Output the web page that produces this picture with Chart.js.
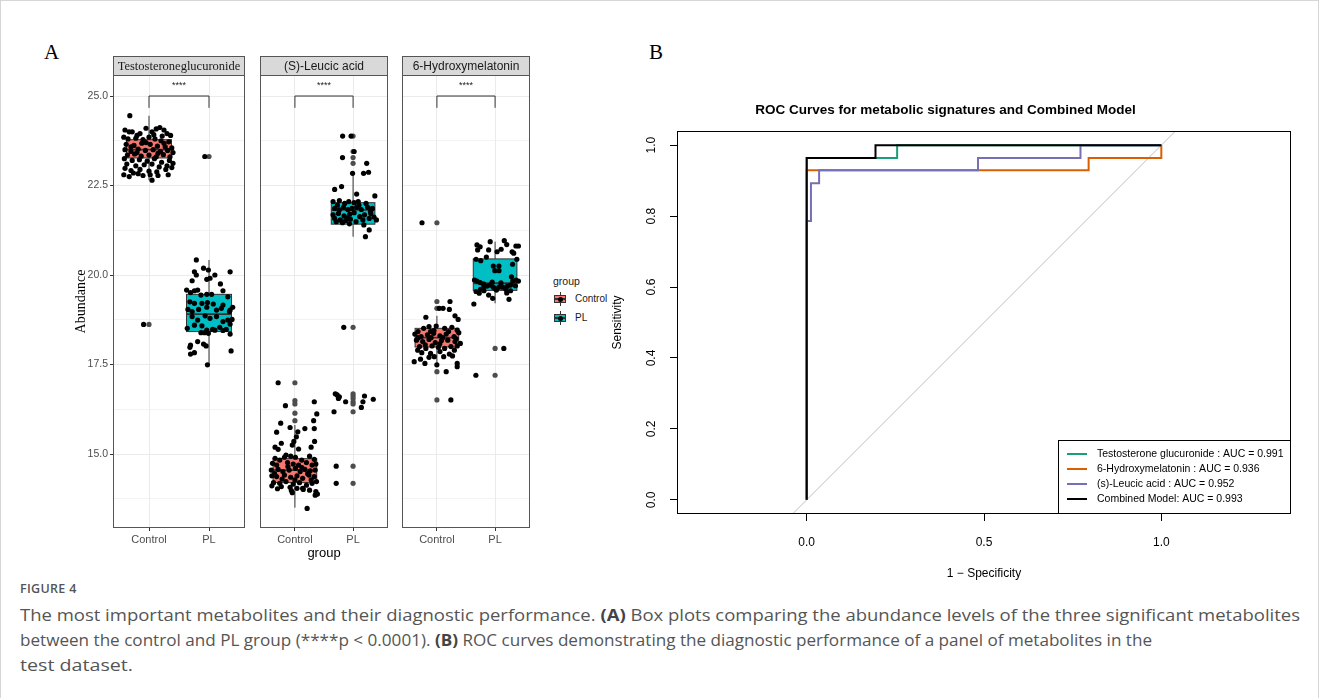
<!DOCTYPE html>
<html><head><meta charset="utf-8">
<script src="https://cdn.jsdelivr.net/npm/chart.js@4.4.1/dist/chart.umd.min.js"></script>
<style>
html,body{margin:0;padding:0;background:#fff;}
#wrap{position:relative;width:1319px;height:698px;overflow:hidden;background:#fff;font-family:"Liberation Sans",Arial,sans-serif;}
#frame{position:absolute;left:0;top:0;width:1317px;height:720px;border:1px solid #d6d6d6;}
canvas{position:absolute;}
.plab{position:absolute;font-family:"Liberation Serif","Times New Roman",serif;font-size:21px;color:#000;line-height:1;}
#legA{position:absolute;left:553px;top:275px;font-size:10px;color:#1a1a1a;}
#legA .t{font-size:10.5px;margin-bottom:5px;}
#legA .row{position:relative;height:19px;}
#legA .key{position:absolute;left:0;top:0;width:14px;height:14px;}
#legA .wh{position:absolute;left:6.5px;top:0;width:1px;height:14px;background:#333;}
#legA .bx{position:absolute;left:1px;top:3px;width:10px;height:6px;border:1px solid #333;}
#legA .md{position:absolute;left:1px;top:6px;width:12px;height:1.5px;background:#333;}
#legA .dt{position:absolute;left:4.5px;top:4.5px;width:5px;height:5px;border-radius:50%;background:#000;}
#legA .txt{position:absolute;left:22px;top:1px;font-size:10px;}
.cap{position:absolute;left:20px;white-space:nowrap;transform-origin:0 0;font-family:"Open Sans","Noto Sans",sans-serif;color:#555;font-size:16px;line-height:1;}
.cap b{color:#444;}
#figno{position:absolute;left:20px;top:580px;font-family:"Open Sans","Noto Sans",sans-serif;font-size:12.5px;color:#555;letter-spacing:0.3px;font-weight:600;}
</style></head><body>
<div id="wrap">
<div id="frame"></div>
<div class="plab" style="left:44px;top:42px;">A</div>
<div class="plab" style="left:649px;top:42px;">B</div>
<div id="legA">
 <div class="t">group</div>
 <div class="row"><div class="key"><div class="wh"></div><div class="bx" style="background:#F8766D"></div><div class="md"></div><div class="dt"></div></div><div class="txt">Control</div></div>
 <div class="row"><div class="key"><div class="wh"></div><div class="bx" style="background:#00BFC4"></div><div class="md"></div><div class="dt"></div></div><div class="txt">PL</div></div>
</div>
<div id="figno">FIGURE 4</div>
<div class="cap" id="cap1" style="top:607px">The most important metabolites and their diagnostic performance. <b>(A)</b> Box plots comparing the abundance levels of the three significant metabolites</div>
<div class="cap" id="cap2" style="top:632px">between the control and PL group (****p &lt; 0.0001). <b>(B)</b> ROC curves demonstrating the diagnostic performance of a panel of metabolites in the</div>
<div class="cap" id="cap3" style="top:657px">test dataset.</div>
</div>
<script>
// ================= DATA =================
const groups = ['Control', 'PL'];
const facetTitles = ['Testosteroneglucuronide', '(S)-Leucic acid', '6-Hydroxymelatonin'];
const sigLabel = '****';
const yTicksA = [15.0, 17.5, 20.0, 22.5, 25.0];
const yMinorA = [13.75, 16.25, 18.75, 21.25, 23.75];
const sigBracket = [24.67, 25.0, 25.3]; // leg bottom, bracket top, label

// box stats: [lower whisker, Q1, median, Q3, upper whisker]
const testoCtrlBox = [22.65, 23.27, 23.5, 23.78, 24.45];
const testoPLBox   = [17.49, 18.42, 18.91, 19.46, 20.42];
const leucCtrlBox  = [13.50, 14.20, 14.55, 14.87, 15.81];
const leucPLBox    = [21.07, 21.42, 21.82, 22.02, 22.87];
const hydrCtrlBox  = [17.44, 17.99, 18.25, 18.51, 18.86];
const hydrPLBox    = [19.21, 19.57, 19.77, 20.45, 20.93];

// boxplot outliers (drawn at group centre)
const testoCtrlOut = [18.62];
const testoPLOut   = [23.31];
const leucCtrlOut  = [16.99, 16.49, 16.40, 16.14, 15.93];
const leucPLOut    = [23.88, 23.45, 23.28, 23.12, 18.54, 16.68, 16.62, 16.55, 16.46, 16.40, 16.18, 14.66, 14.18];
const hydrCtrlOut  = [21.46, 19.26, 19.07, 17.30, 16.51];
const hydrPLOut    = [17.95, 17.20];

// jittered points [offset from group centre, abundance]
const testoCtrlPts = [[-0.32,24.45],[-0.4,24.05],[-0.28,24.0],[-0.15,23.95],[-0.05,24.1],[0.05,24.0],[0.18,24.12],[0.25,24.05],[0.3,23.95],[0.36,23.9],
[-0.42,23.85],[-0.35,23.8],[-0.22,23.82],[-0.1,23.78],[0.0,23.85],[0.1,23.8],[0.2,23.75],[0.33,23.72],[-0.38,23.65],[-0.25,23.62],
[-0.12,23.68],[0.02,23.65],[0.14,23.6],[0.27,23.58],[0.38,23.55],[-0.4,23.5],[-0.3,23.45],[-0.18,23.52],[-0.06,23.48],[0.07,23.5],
[0.19,23.45],[0.31,23.48],[0.4,23.42],[-0.36,23.35],[-0.24,23.38],[-0.13,23.32],[0.0,23.35],[0.12,23.3],[0.24,23.36],[0.35,23.3],
[-0.41,23.25],[-0.28,23.2],[-0.16,23.22],[-0.03,23.18],[0.09,23.25],[0.21,23.15],[0.34,23.2],[-0.37,23.1],[-0.22,23.05],[-0.08,23.08],
[0.05,23.1],[0.17,23.02],[0.3,23.05],[0.4,23.12],[-0.4,22.98],[-0.3,22.92],[-0.15,22.95],[0.0,22.9],[0.13,22.88],[0.28,22.95],
[-0.42,22.8],[-0.33,22.75],[-0.26,22.85],[-0.18,22.83],[-0.1,22.78],[0.02,22.8],[0.05,22.65],[0.15,22.78],[0.32,22.8],[0.38,23.0],
[-0.2,23.9],[0.08,23.92],[0.22,23.88],[-0.33,24.0],[0.12,24.08],[-0.05,23.7],[0.25,23.68],[-0.2,23.42],[0.15,23.4],[-0.3,23.58],
[-0.09,18.62]];
const testoPLPts = [[-0.211,20.42],[-0.091,20.19],[-0.243,20.09],[-0.211,20.0],[-0.010,20.14],[0.098,20.0],[0.352,20.09],[-0.037,19.88],[0.017,19.91],[-0.281,19.84],[0.190,19.75],
[-0.373,19.58],[-0.308,19.51],[-0.243,19.56],[-0.189,19.58],[0.233,19.56],[-0.134,19.44],[-0.037,19.46],[0.044,19.46],[0.314,19.39],
[-0.319,19.25],[-0.243,19.21],[-0.118,19.21],[-0.026,19.23],[0.071,19.19],[0.233,19.16],
[-0.351,19.04],[-0.281,18.98],[-0.173,19.04],[-0.037,19.10],[0.125,19.02],[0.206,19.07],[0.352,19.02],[0.395,19.10],[0.341,18.98],
[-0.281,18.84],[-0.189,18.74],[-0.064,18.86],[0.017,18.79],[0.125,18.84],[0.233,18.70],[0.314,18.74],[0.352,18.63],[0.384,18.76],
[-0.362,18.51],[-0.243,18.60],[-0.118,18.58],[-0.037,18.46],[0.060,18.48],[0.179,18.54],[0.287,18.48],
[-0.134,18.39],[-0.075,18.39],[-0.010,18.37],[0.098,18.46],[0.233,18.45],[0.352,18.35],
[-0.189,18.14],[-0.091,18.07],[-0.048,18.02],[-0.308,18.04],[-0.319,17.98],[-0.243,17.83],[-0.308,17.79],[0.368,17.88],[-0.026,17.49],
[-0.07,23.31]];
const leucCtrlPts = [[-0.288,16.99],[-0.163,16.35],[0.333,16.46],[0.376,16.12],[-0.244,15.86],[-0.083,15.74],[0.322,15.93],[0.171,15.71],[0.333,15.71],
[-0.314,15.61],[0.050,15.62],[0.025,15.48],[-0.018,15.35],[-0.234,15.30],[-0.045,15.25],[0.063,15.14],[0.279,15.19],[0.338,15.35],[-0.341,15.19],[-0.288,15.13],
[-0.153,14.97],[-0.072,14.94],[-0.341,14.88],[-0.261,14.83],[-0.180,14.91],[0.009,14.91],[0.117,14.83],[0.252,14.94],[0.333,14.85],
[-0.385,14.74],[-0.314,14.69],[-0.126,14.76],[-0.029,14.72],[0.063,14.69],[0.198,14.76],[0.295,14.69],[0.360,14.72],
[-0.406,14.55],[-0.288,14.57],[-0.207,14.51],[-0.099,14.55],[0.009,14.60],[0.090,14.51],[0.171,14.57],[0.263,14.53],[0.349,14.55],
[-0.396,14.39],[-0.314,14.37],[-0.180,14.41],[-0.072,14.35],[0.036,14.39],[0.133,14.32],[0.241,14.41],[0.333,14.37],
[-0.368,14.20],[-0.261,14.18],[-0.153,14.23],[-0.029,14.16],[0.079,14.20],[0.198,14.13],[0.295,14.18],[0.371,14.23],
[-0.396,14.11],[-0.234,14.09],[-0.083,14.07],[0.036,14.04],[0.144,14.01],[0.252,13.99],[0.360,13.95],[0.349,13.85],[0.387,13.88],[0.133,14.04],[-0.061,13.98],[-0.045,13.92],[0.21,13.48],
[-0.35,14.45],[0.22,14.45],[-0.12,14.65],[0.12,14.62],[-0.22,14.3],[0.28,14.28],[-0.3,14.03],[0.00,14.28]];
const leucPLPts = [[-0.18,23.88],[-0.035,23.88],[0.018,23.45],[-0.182,23.28],[0.234,23.12],[0.266,22.87],[0.18,22.84],[-0.009,22.84],[0.374,22.21],[-0.317,22.39],[-0.198,22.47],[0.061,22.26],
[-0.344,22.05],[-0.236,22.08],[-0.144,22.00],[-0.074,22.05],[0.018,22.02],[0.088,22.05],[0.223,22.00],
[-0.317,21.86],[-0.236,21.82],[-0.166,21.89],[-0.090,21.83],[-0.020,21.86],[0.061,21.89],[0.142,21.83],[0.250,21.89],[0.331,21.86],
[-0.344,21.68],[-0.252,21.72],[-0.155,21.65],[-0.058,21.70],[0.018,21.74],[0.115,21.63],[0.196,21.68],[0.304,21.72],
[-0.317,21.58],[-0.220,21.54],[-0.128,21.52],[-0.047,21.56],[0.050,21.49],[0.169,21.54],[0.277,21.58],[0.401,21.54],
[-0.290,21.49],[-0.182,21.46],[-0.063,21.43],[0.185,21.40],[0.277,21.26],[0.212,21.07],
[-0.27,21.95],[0.10,21.95],[0.30,21.78],[-0.10,21.60],[0.36,21.62],
[-0.16,18.54],[-0.306,16.68],[-0.274,16.65],[-0.252,16.55],[-0.236,16.60],[-0.128,16.46],[0.196,16.62],[0.169,16.46],[0.347,16.53],[0.142,16.30],[-0.328,16.18],[-0.29,14.66],[-0.29,14.18]];
const hydrCtrlPts = [[0.225,19.26],[0.041,19.07],[0.106,19.07],[0.214,19.04],[-0.190,18.82],[0.311,18.86],[0.365,18.76],
[-0.228,18.51],[-0.136,18.56],[-0.325,18.42],[-0.109,18.42],[-0.012,18.575],[0.133,18.51],[0.257,18.54],[0.349,18.46],
[-0.379,18.35],[-0.271,18.28],[-0.163,18.33],[-0.055,18.37],[0.052,18.30],[0.160,18.35],[0.295,18.28],[0.376,18.39],
[-0.352,18.18],[-0.244,18.14],[-0.136,18.20],[-0.028,18.11],[0.079,18.17],[0.187,18.18],[0.311,18.14],[0.403,18.09],
[-0.298,18.00],[-0.190,17.95],[-0.083,18.02],[0.025,17.98],[0.133,17.95],[0.241,18.00],[0.349,18.02],
[-0.260,17.83],[-0.109,17.81],[0.052,17.86],[0.214,17.79],[-0.045,17.72],[0.117,17.72],[0.268,17.74],[-0.136,17.70],
[-0.390,17.58],[-0.282,17.65],[-0.206,17.53],[-0.001,17.49],[0.160,17.30],[0.349,17.53],[0.349,17.44],
[-0.32,18.25],[0.33,18.22],[-0.05,18.45],[0.2,18.42],[-0.2,18.05],[0.05,18.08],[0.3,17.9],[-0.33,17.9],[-0.1,18.25],[0.1,18.25],
[-0.256,21.46],[0.24,16.51]];
const hydrPLPts = [[-0.311,20.84],[-0.257,20.79],[-0.084,20.93],[0.158,20.96],[0.358,20.81],[0.401,20.81],[0.293,20.65],[0.320,20.61],[-0.111,20.70],[0.034,20.65],[0.104,20.72],[-0.300,20.70],
[-0.031,20.25],[0.066,20.25],[-0.004,20.12],[0.066,20.12],[-0.327,20.44],[-0.246,20.40],[0.374,20.44],
[-0.354,19.86],[-0.311,19.83],[-0.257,19.79],[-0.203,19.63],[-0.138,19.69],[-0.084,19.72],[-0.031,19.66],[0.066,19.66],[0.131,19.66],[0.212,19.69],[0.266,19.72],[0.304,19.83],[0.358,19.86],[0.401,19.83],[0.282,19.95],
[-0.327,19.54],[-0.273,19.49],[-0.192,19.56],[-0.111,19.44],[-0.041,19.35],[0.023,19.58],[0.185,19.60],[0.266,19.56],[-0.365,19.19],[0.239,19.32],
[-0.2,19.75],[0.1,19.78],[0.35,19.7],[-0.05,19.8],[0.2,19.5],[-0.25,19.6],[0.0,19.62],[0.3,20.3],[-0.15,20.5],[0.2,20.85],
[0.15,17.95],[-0.33,17.20]];

// ROC curves (x = 1 - specificity, y = sensitivity)
const rocTestoX = [0, 0, 0.255, 0.255, 1];
const rocTestoY = [0, 0.964, 0.964, 1, 1];
const rocHydrX  = [0, 0, 0.795, 0.795, 1, 1];
const rocHydrY  = [0, 0.929, 0.929, 0.964, 0.964, 1];
const rocLeucX  = [0, 0, 0.012, 0.012, 0.035, 0.035, 0.483, 0.483, 0.772, 0.772, 1];
const rocLeucY  = [0, 0.786, 0.786, 0.893, 0.893, 0.929, 0.929, 0.964, 0.964, 1, 1];
const rocCombX  = [0, 0, 0.194, 0.194, 1];
const rocCombY  = [0, 0.964, 0.964, 1, 1];
const rocLabels = ['Testosterone glucuronide : AUC = 0.991', '6-Hydroxymelatonin : AUC = 0.936', '(s)-Leucic acid : AUC = 0.952', 'Combined Model: AUC = 0.993'];
const rocColors = ['#1B9E77', '#D95F02', '#7570B3', '#000000'];
const xTicksB = [0, 0.5, 1.0];
const yTicksB = [0, 0.2, 0.4, 0.6, 0.8, 1.0];

// ================= RENDER =================
const SANS = '"Liberation Sans", Arial, sans-serif';
const SERIF = '"Liberation Serif", "Times New Roman", serif';
Chart.defaults.font.family = SANS;
const wrap = document.getElementById('wrap');
function addCanvas(left, top, w, h) {
  const c = document.createElement('canvas');
  c.width = w; c.height = h;
  c.style.left = left + 'px'; c.style.top = top + 'px';
  c.style.width = w + 'px'; c.style.height = h + 'px';
  wrap.appendChild(c);
  return c;
}
const fillCols = ['#F8766D', '#00BFC4'];
const yMinA = 12.933, yMaxA = 25.587;
const yAllA = yMinorA.concat(yTicksA).sort((a, b) => a - b);
const STRIP = 19;

function facetPlugin(cfg) {
  return {
    id: 'facet' + cfg.idx,
    beforeDatasetsDraw(chart) {
      const {ctx, scales: {x, y}} = chart;
      cfg.boxes.forEach((b, i) => {
        const c = i + 1;
        const xl = x.getPixelForValue(c - 0.375), xr = x.getPixelForValue(c + 0.375), xc = x.getPixelForValue(c);
        const [lo, q1, md, q3, hi] = b.map(v => y.getPixelForValue(v));
        ctx.save();
        ctx.strokeStyle = '#333'; ctx.lineWidth = 1;
        ctx.beginPath(); ctx.moveTo(xc, hi); ctx.lineTo(xc, q3); ctx.moveTo(xc, q1); ctx.lineTo(xc, lo); ctx.stroke();
        ctx.fillStyle = fillCols[i];
        ctx.fillRect(xl, q3, xr - xl, q1 - q3);
        ctx.strokeRect(xl, q3, xr - xl, q1 - q3);
        ctx.lineWidth = 1.8;
        ctx.beginPath(); ctx.moveTo(xl, md); ctx.lineTo(xr, md); ctx.stroke();
        ctx.restore();
      });
    },
    afterDatasetsDraw(chart) {
      const {ctx, scales: {x, y}} = chart;
      const x1 = x.getPixelForValue(1), x2 = x.getPixelForValue(2);
      const yl = y.getPixelForValue(sigBracket[0]), yt = y.getPixelForValue(sigBracket[1]);
      ctx.save();
      ctx.strokeStyle = '#333'; ctx.lineWidth = 1;
      ctx.beginPath(); ctx.moveTo(x1, yl); ctx.lineTo(x1, yt); ctx.lineTo(x2, yt); ctx.lineTo(x2, yl); ctx.stroke();
      ctx.fillStyle = '#222'; ctx.font = '9px ' + SANS; ctx.textAlign = 'center'; ctx.textBaseline = 'middle';
      ctx.fillText(sigLabel, x.getPixelForValue(1.5), y.getPixelForValue(sigBracket[2]));
      ctx.restore();
    },
    afterDraw(chart) {
      const {ctx, chartArea: a} = chart;
      ctx.save();
      ctx.strokeStyle = '#555'; ctx.lineWidth = 1;
      ctx.strokeRect(Math.round(a.left) + 0.5, Math.round(a.top) + 0.5, Math.round(a.width) - 1, Math.round(a.height) - 1);
      ctx.fillStyle = '#D9D9D9';
      ctx.fillRect(Math.round(a.left), Math.round(a.top) - STRIP, Math.round(a.width), STRIP);
      ctx.strokeStyle = '#555';
      ctx.strokeRect(Math.round(a.left) + 0.5, Math.round(a.top) - STRIP + 0.5, Math.round(a.width) - 1, STRIP);
      ctx.fillStyle = '#1a1a1a';
      ctx.font = cfg.serif ? ('12.5px ' + SERIF) : ('12px ' + SANS);
      ctx.textAlign = 'center'; ctx.textBaseline = 'middle';
      ctx.fillText(cfg.title, (a.left + a.right) / 2, a.top - STRIP / 2 + 1);
      ctx.restore();
    }
  };
}

const facets = [
  {idx: 0, title: facetTitles[0], serif: true, boxes: [testoCtrlBox, testoPLBox], pts: [testoCtrlPts, testoPLPts], outs: [testoCtrlOut, testoPLOut], showY: true, left: 60, panelW: 136, xTitle: false},
  {idx: 1, title: facetTitles[1], serif: false, boxes: [leucCtrlBox, leucPLBox], pts: [leucCtrlPts, leucPLPts], outs: [leucCtrlOut, leucPLOut], showY: false, left: 256, panelW: 136, xTitle: true},
  {idx: 2, title: facetTitles[2], serif: false, boxes: [hydrCtrlBox, hydrPLBox], pts: [hydrCtrlPts, hydrPLPts], outs: [hydrCtrlOut, hydrPLOut], showY: false, left: 398, panelW: 136, xTitle: false}
];
const FAC_TOP = 56, FAC_H = 506, YAXW = 53, XAXH = 34;

facets.forEach(f => {
  const w = (f.showY ? YAXW : 0) + f.panelW;
  const cv = addCanvas(f.left, FAC_TOP, w, FAC_H);
  const jit = [], outl = [];
  f.pts.forEach((arr, gi) => arr.forEach(p => jit.push({x: gi + 1 + p[0], y: p[1]})));
  f.outs.forEach((arr, gi) => arr.forEach(v => outl.push({x: gi + 1, y: v})));
  new Chart(cv, {
    type: 'scatter',
    data: {datasets: [
      {data: jit, pointRadius: 2.6, pointBackgroundColor: '#000', pointBorderWidth: 0, order: 1},
      {data: outl, pointRadius: 2.6, pointBackgroundColor: '#4d4d4d', pointBorderWidth: 0, order: 2}
    ]},
    options: {
      responsive: false, animation: false, devicePixelRatio: 1, events: [],
      layout: {padding: {top: STRIP, left: 0, right: 0, bottom: 0}},
      plugins: {legend: {display: false}, tooltip: {enabled: false}},
      scales: {
        x: {type: 'linear', min: 0.4, max: 2.6,
          afterBuildTicks: s => { s.ticks = [1, 2].map(v => ({value: v})); },
          ticks: {callback: v => groups[v - 1], font: {size: 11}, color: '#4d4d4d', padding: 2, maxRotation: 0, autoSkip: false},
          grid: {color: '#ebebeb', tickColor: '#333', tickLength: 3, lineWidth: 1},
          border: {display: false},
          title: {display: f.xTitle, text: 'group', font: {size: 13}, color: '#000', padding: {top: 0, bottom: 1}},
          afterFit: s => { s.height = XAXH; }
        },
        y: {type: 'linear', min: yMinA, max: yMaxA,
          afterBuildTicks: s => { s.ticks = yAllA.map(v => ({value: v})); },
          ticks: {display: f.showY, callback: v => yTicksA.includes(v) ? v.toFixed(1) : '', font: {size: 10.5}, color: '#4d4d4d', padding: 2, autoSkip: false},
          grid: {color: '#ebebeb', lineWidth: c => (c.tick && yTicksA.includes(c.tick.value)) ? 1 : 0.6,
                 tickColor: c => (f.showY && c.tick && yTicksA.includes(c.tick.value)) ? '#333' : 'rgba(0,0,0,0)',
                 tickLength: 3, drawTicks: f.showY},
          border: {display: false},
          title: {display: f.showY, text: 'Abundance', font: {family: SERIF, size: 14}, color: '#000', padding: {top: 13, bottom: 0}},
          afterFit: s => { s.width = f.showY ? YAXW : 0; }
        }
      }
    },
    plugins: [facetPlugin(f)]
  });
});

// ---- Panel B ----
const B_LEFT = 600, B_TOP = 90, B_W = 710, B_H = 500;
const boxB = {l: 677, r: 1291, t: 131, b: 514};
const pxPerUnit = (boxB.b - boxB.t) / 1.08;
const xMinB = -((806.7 - boxB.l) / pxPerUnit), xMaxB = (boxB.r - 806.7) / pxPerUnit;
const cvB = addCanvas(B_LEFT, B_TOP, B_W, B_H);
const toPts = (xs, ys) => xs.map((v, i) => ({x: v, y: ys[i]}));
const rocSets = [[rocTestoX, rocTestoY], [rocHydrX, rocHydrY], [rocLeucX, rocLeucY], [rocCombX, rocCombY]];
const orders = [4, 3, 2, 1];
const dsB = rocSets.map((s, i) => ({label: rocLabels[i], data: toPts(s[0], s[1]), showLine: true, pointRadius: 0, borderColor: rocColors[i], borderWidth: 2, order: orders[i], borderJoinStyle: 'miter'}));
dsB.push({label: 'chance', data: [{x: -1, y: -1}, {x: 2, y: 2}], showLine: true, pointRadius: 0, borderColor: '#bdbdbd', borderWidth: 1, order: 9});
const legendB = {
  id: 'legendB',
  afterDatasetsDraw(chart) {
    const {ctx, chartArea: a} = chart;
    ctx.save();
    ctx.fillStyle = '#fff'; ctx.strokeStyle = '#000'; ctx.lineWidth = 1;
    const l = 1058 - B_LEFT + 0.5, t = 440 - B_TOP + 0.5;
    ctx.fillRect(l, t, a.right - l, a.bottom - t);
    ctx.strokeRect(l, t, a.right - l - 0.5, a.bottom - t - 0.5);
    ctx.font = '10.5px ' + SANS; ctx.textBaseline = 'middle'; ctx.textAlign = 'left';
    rocLabels.forEach((lab, i) => {
      const yy = 454 - B_TOP + 15 * i;
      ctx.strokeStyle = rocColors[i]; ctx.lineWidth = 2;
      ctx.beginPath(); ctx.moveTo(1067 - B_LEFT, yy); ctx.lineTo(1087 - B_LEFT, yy); ctx.stroke();
      ctx.fillStyle = '#000';
      ctx.fillText(lab, 1097 - B_LEFT, yy);
    });
    ctx.strokeStyle = '#000'; ctx.lineWidth = 1;
    ctx.strokeRect(Math.round(a.left) + 0.5, Math.round(a.top) + 0.5, Math.round(a.width) - 1, Math.round(a.height) - 1);
    ctx.restore();
  }
};
new Chart(cvB, {
  type: 'scatter',
  data: {datasets: dsB},
  options: {
    responsive: false, animation: false, devicePixelRatio: 1, events: [],
    layout: {padding: {left: 0, right: B_LEFT + B_W - boxB.r, top: 0, bottom: 0}},
    plugins: {
      legend: {display: false}, tooltip: {enabled: false},
      title: {display: true, text: 'ROC Curves for metabolic signatures and Combined Model', color: '#000',
              font: {size: 13.5, weight: 'bold'}, padding: {top: 12, bottom: (boxB.t - B_TOP) - 12 - 16.2}}
    },
    scales: {
      x: {type: 'linear', min: xMinB, max: xMaxB,
        afterBuildTicks: s => { s.ticks = xTicksB.map(v => ({value: v})); },
        ticks: {callback: v => v.toFixed(1), font: {size: 12}, color: '#000', padding: 14, maxRotation: 0, autoSkip: false},
        grid: {drawOnChartArea: false, tickLength: 7, color: '#000'},
        border: {display: false},
        title: {display: true, text: '1 \u2212 Specificity', font: {size: 12}, color: '#000', padding: {top: 0, bottom: 9}},
        afterFit: s => { s.height = B_TOP + B_H - boxB.b; }
      },
      y: {type: 'linear', min: -0.04, max: 1.04,
        afterBuildTicks: s => { s.ticks = yTicksB.map(v => ({value: v})); },
        ticks: {callback: v => v.toFixed(1), font: {size: 12}, color: '#000', padding: 10, minRotation: 90, maxRotation: 90, crossAlign: 'center', autoSkip: false},
        grid: {drawOnChartArea: false, tickLength: 7, color: '#000'},
        border: {display: false},
        title: {display: true, text: 'Sensitivity', font: {size: 12}, color: '#000', padding: {top: 10, bottom: 0}},
        afterFit: s => { s.width = boxB.l - B_LEFT; }
      }
    }
  },
  plugins: [legendB]
});

// caption line widths
const capTargets = {cap1: 1280, cap2: 1132, cap3: 113};
Object.keys(capTargets).forEach(id => {
  const el = document.getElementById(id);
  const w = el.getBoundingClientRect().width;
  el.style.transform = 'scaleX(' + (capTargets[id] / w) + ')';
});
</script>
</body></html>
